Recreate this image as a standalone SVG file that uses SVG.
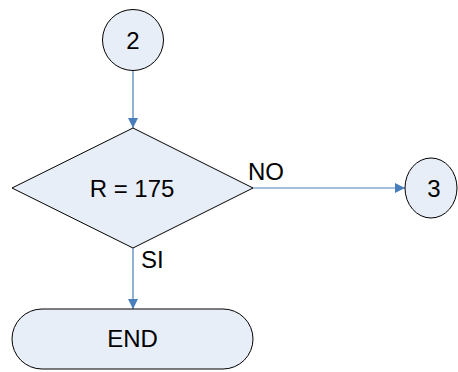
<svg xmlns="http://www.w3.org/2000/svg" width="458" height="372" viewBox="0 0 458 372">
<defs>
<style>
.node{fill:#E8EEF8;stroke:#000;stroke-width:1}
.lbl{font-family:"Liberation Sans",Arial,sans-serif;font-size:24px;fill:#000}
.c{text-anchor:middle}
.edge{stroke:#4A7EBB;stroke-width:1.2;fill:none}
</style>
<marker id="ah" viewBox="0 0 10 10" refX="10" refY="5" markerWidth="10" markerHeight="10" markerUnits="userSpaceOnUse" orient="auto">
<path d="M0,0 L10,5 L0,10 Z" fill="#4A7EBB"/>
</marker>
</defs>
<rect width="458" height="372" fill="#fff"/>
<g id="connectors">
<line class="edge" x1="133" y1="71" x2="133" y2="128" marker-end="url(#ah)"/>
<line class="edge" x1="252" y1="188" x2="405" y2="188" marker-end="url(#ah)"/>
<line class="edge" x1="133" y1="248" x2="133" y2="309" marker-end="url(#ah)"/>
<text class="lbl" x="248" y="180">NO</text>
<text class="lbl" x="141" y="268">SI</text>
</g>
<g id="n2">
<circle class="node" cx="133" cy="40" r="30.5"/>
<text class="lbl c" x="133" y="49">2</text>
</g>
<g id="decision">
<polygon class="node" points="133,128 253,188 133,248 12,188"/>
<text class="lbl c" x="132" y="197">R = 175</text>
</g>
<g id="n3">
<ellipse class="node" cx="431" cy="188" rx="26" ry="30"/>
<text class="lbl c" x="434" y="197">3</text>
</g>
<g id="end">
<rect class="node" x="12" y="309" width="241" height="60" rx="30" ry="30"/>
<text class="lbl c" x="132.5" y="347">END</text>
</g>
</svg>
